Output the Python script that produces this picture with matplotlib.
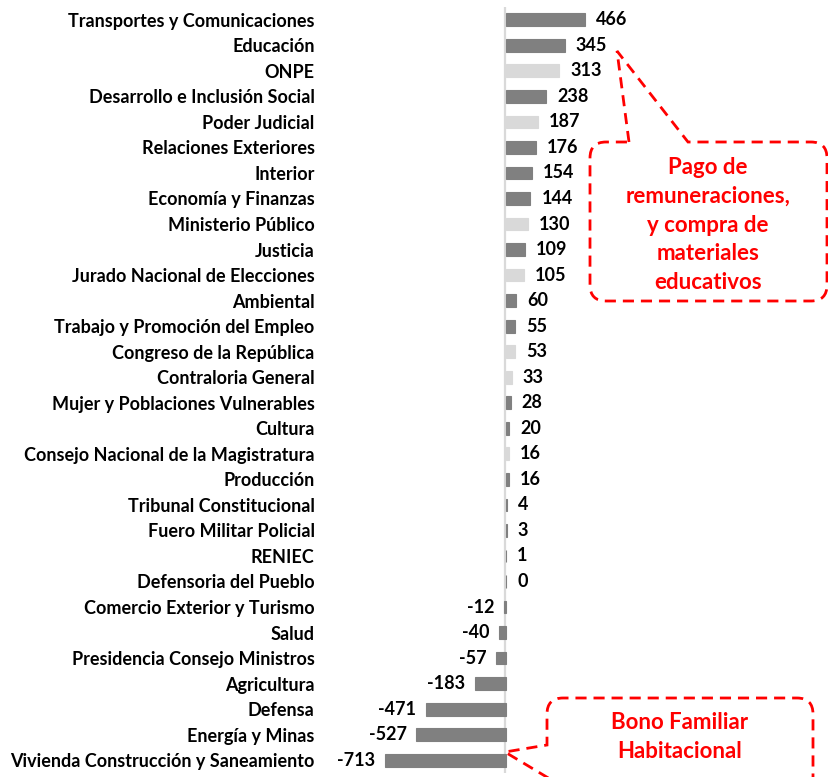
import matplotlib
matplotlib.use("Agg")
import matplotlib.pyplot as plt
from matplotlib.path import Path
from matplotlib.patches import PathPatch

# datos
sectores = [
    "Transportes y Comunicaciones", "Educación", "ONPE",
    "Desarrollo e Inclusión Social", "Poder Judicial", "Relaciones Exteriores",
    "Interior", "Economía y Finanzas", "Ministerio Público", "Justicia",
    "Jurado Nacional de Elecciones", "Ambiental", "Trabajo y Promoción del Empleo",
    "Congreso de la República", "Contraloria General",
    "Mujer y Poblaciones Vulnerables", "Cultura",
    "Consejo Nacional de la Magistratura", "Producción", "Tribunal Constitucional",
    "Fuero Militar Policial", "RENIEC", "Defensoria del Pueblo",
    "Comercio Exterior y Turismo", "Salud", "Presidencia Consejo Ministros",
    "Agricultura", "Defensa", "Energía y Minas",
    "Vivienda Construcción y Saneamiento",
]
valores = [466, 345, 313, 238, 187, 176, 154, 144, 130, 109, 105, 60, 55, 53, 33,
           28, 20, 16, 16, 4, 3, 1, 0, -12, -40, -57, -183, -471, -527, -713]
# organismos autonomos en gris claro
autonomos = ["ONPE", "Poder Judicial", "Ministerio Público",
             "Jurado Nacional de Elecciones", "Congreso de la República",
             "Contraloria General", "Consejo Nacional de la Magistratura"]

W, H = 829, 777
FONT = ["Lato", "DejaVu Sans"]
plt.rcParams["font.family"] = FONT

fig = plt.figure(figsize=(W / 100, H / 100), dpi=100)
ax = fig.add_axes([330 / W, 4 / H, (W - 330) / W, 766 / H])

n = len(sectores)
escala = 0.17  # px por unidad
ax.set_xlim(-(506 - 330) / escala, (W - 506) / escala)
ax.set_ylim(n - 0.5, -0.5)

colores = ["#d9d9d9" if s in autonomos else "#808080" for s in sectores]
ax.barh(range(n), valores, height=0.5, color=colores, edgecolor=colores, lw=0.8)
ax.axvline(-6, color="#d9d9d9", lw=1.6, zorder=0)

for i, v in enumerate(valores):
    if v >= 0:
        ax.annotate(str(v), (v, i), xytext=(8, 0), textcoords="offset points",
                    ha="left", va="center", fontsize=13, fontweight="bold")
    else:
        ax.annotate(str(v), (v, i), xytext=(-7, 0), textcoords="offset points",
                    ha="right", va="center", fontsize=13, fontweight="bold")

ax.set_yticks(range(n))
ax.set_yticklabels(sectores, fontsize=13, fontweight="bold")
ax.tick_params(axis="y", length=0, pad=11)
ax.set_xticks([])
for sp in ax.spines.values():
    sp.set_visible(False)


def px(x, y):
    return (x / W, 1 - y / H)


def caja(puntos, codigos):
    verts = [px(x, y) for x, y in puntos]
    patch = PathPatch(Path(verts, codigos), transform=fig.transFigure,
                      fill=False, edgecolor="#ff0000", lw=2, linestyle=(0, (4, 2.5)),
                      clip_on=False)
    fig.add_artist(patch)


M, L, C = Path.MOVETO, Path.LINETO, Path.CURVE3
r = 16
# globo superior
x0, x1, y0, y1 = 590, 827, 142, 301
caja([(629, y0), (617, 51), (688, y0), (x1 - r, y0), (x1, y0), (x1, y0 + r),
      (x1, y1 - r), (x1, y1), (x1 - r, y1), (x0 + r, y1), (x0, y1), (x0, y1 - r),
      (x0, y0 + r), (x0, y0), (x0 + r, y0), (629, y0)],
     [M, L, L, L, C, C, L, C, C, L, C, C, L, C, C, L])
fig.text(708 / W, 1 - 225 / H,
         "Pago de\nremuneraciones,\ny compra de\nmateriales\neducativos",
         ha="center", va="center", color="#ff0000", fontsize=16,
         fontweight="bold", linespacing=1.45)

# globo inferior
x0, x1, y0 = 547, 813, 698
caja([(555, 782), (505, 752), (x0, 745), (x0, y0 + r), (x0, y0), (x0 + r, y0),
      (x1 - r, y0), (x1, y0), (x1, y0 + r), (x1, 790)],
     [M, L, L, L, C, C, L, C, C, L])
fig.text(680 / W, 1 - 737 / H, "Bono Familiar\nHabitacional",
         ha="center", va="center", color="#ff0000", fontsize=16,
         fontweight="bold", linespacing=1.45)

fig.savefig("out.png", dpi=100)
